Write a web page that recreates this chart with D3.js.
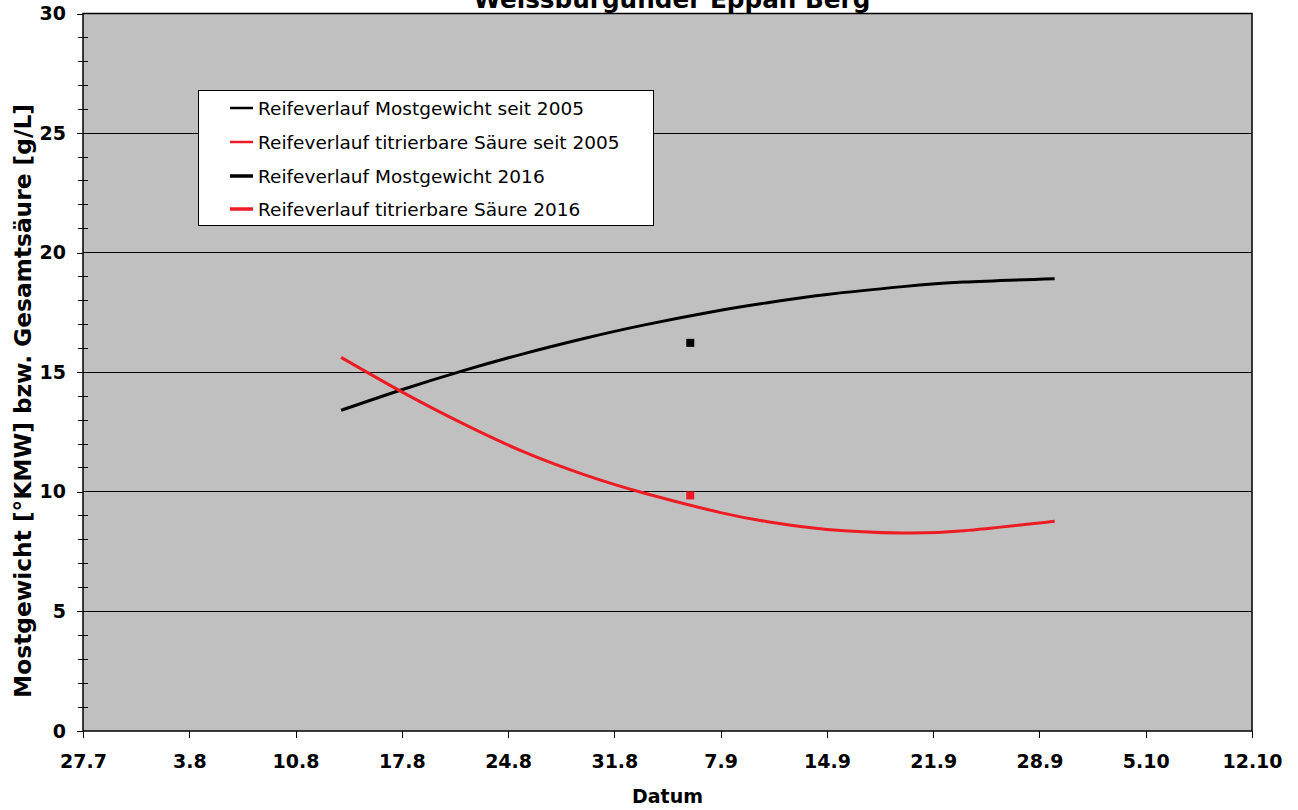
<!DOCTYPE html>
<html>
<head>
<meta charset="utf-8">
<script src="https://cdn.jsdelivr.net/npm/d3@7"></script>
<style>
  html, body { margin: 0; padding: 0; background: #fff; }
  svg { display: block; font-family: Verdana, "DejaVu Sans", sans-serif; }
</style>
</head>
<body>
<svg id="chart" width="1298" height="810"></svg>
<script>
// ---- data ----
const tickDates = ["2016-07-27","2016-08-03","2016-08-10","2016-08-17","2016-08-24","2016-08-31",
                   "2016-09-07","2016-09-14","2016-09-21","2016-09-28","2016-10-05","2016-10-12"];
const yTicks = [0, 5, 10, 15, 20, 25, 30];

const trendDates = ["2016-08-13","2016-08-17","2016-08-21","2016-08-25","2016-08-29","2016-09-02",
                    "2016-09-07","2016-09-10","2016-09-14","2016-09-19","2016-09-23","2016-09-29"];
const mostgewichtTrend = [13.41, 14.27, 15.06, 15.77, 16.41, 16.98, 17.59, 17.90, 18.25, 18.58, 18.77, 18.91];
const saeureTrend      = [15.62, 14.18, 12.86, 11.68, 10.72, 9.94, 9.13, 8.76, 8.43, 8.28, 8.37, 8.77];

const dates2016 = ["2016-09-05"];
const mostgewicht2016 = [16.23];
const saeure2016 = [9.85];

const legendLabels = ["Reifeverlauf Mostgewicht seit 2005", "Reifeverlauf titrierbare Säure seit 2005",
                      "Reifeverlauf Mostgewicht 2016", "Reifeverlauf titrierbare Säure 2016"];
const titleText = "Weissburgunder Eppan Berg";
const xTitle = "Datum";
const yTitle = "Mostgewicht [°KMW] bzw. Gesamtsäure [g/L]";

// ---- drawing ----
const RED = "#ed1c24";
const parse = d3.timeParse("%Y-%m-%d");
const fmt = d3.timeFormat("%-d.%-m");
const svg = d3.select("#chart");
const L = 83, R = 1252, T = 13.5, B = 731;

const x = d3.scaleTime().domain([parse(tickDates[0]), parse(tickDates[tickDates.length - 1])]).range([L, R]);
const y = d3.scaleLinear().domain([0, 30]).range([B, T]);

// plot background
svg.append("rect").attr("x", L).attr("y", T).attr("width", R - L).attr("height", B - T)
  .attr("fill", "#c0c0c0");

// gridlines
svg.append("g").selectAll("line").data(yTicks.filter(v => v > 0 && v < 30)).join("line")
  .attr("x1", L).attr("x2", R).attr("y1", d => y(d)).attr("y2", d => y(d))
  .attr("stroke", "#000").attr("stroke-width", 1).attr("shape-rendering", "crispEdges");

// minor y ticks
svg.append("g").selectAll("line").data(d3.range(0, 31).filter(v => v % 5 !== 0)).join("line")
  .attr("x1", L - 5).attr("x2", L + 5).attr("y1", d => y(d)).attr("y2", d => y(d))
  .attr("stroke", "#000").attr("stroke-width", 1).attr("shape-rendering", "crispEdges");

// y axis
const yAxis = svg.append("g").attr("transform", `translate(${L},0)`)
  .call(d3.axisLeft(y).tickValues(yTicks).tickSize(6).tickPadding(11).tickFormat(d3.format("d")));
yAxis.select(".domain").remove();
yAxis.selectAll(".tick line").attr("stroke", "#000").attr("shape-rendering", "crispEdges");
yAxis.selectAll(".tick text").attr("font-size", 19).attr("font-weight", "bold")
  .attr("font-family", 'Verdana, "DejaVu Sans", sans-serif').attr("fill", "#000");

// x axis
const xAxis = svg.append("g").attr("transform", `translate(0,${B})`)
  .call(d3.axisBottom(x).tickValues(tickDates.map(parse)).tickSize(7).tickPadding(17).tickFormat(fmt));
xAxis.select(".domain").remove();
xAxis.selectAll(".tick line").attr("stroke", "#000").attr("shape-rendering", "crispEdges");
xAxis.selectAll(".tick text").attr("font-size", 19).attr("font-weight", "bold")
  .attr("font-family", 'Verdana, "DejaVu Sans", sans-serif').attr("fill", "#000");

// plot border
svg.append("rect").attr("x", L).attr("y", T).attr("width", R - L).attr("height", B - T)
  .attr("fill", "none").attr("stroke", "#000").attr("stroke-width", 1.5);

// trend curves
const line = d3.line().x(d => x(d[0])).y(d => y(d[1])).curve(d3.curveNatural);
const mostData = trendDates.map((d, i) => [parse(d), mostgewichtTrend[i]]);
const saeureData = trendDates.map((d, i) => [parse(d), saeureTrend[i]]);
svg.append("path").datum(mostData).attr("d", line).attr("fill", "none")
  .attr("stroke", "#000").attr("stroke-width", 3);
svg.append("path").datum(saeureData).attr("d", line).attr("fill", "none")
  .attr("stroke", RED).attr("stroke-width", 3);

// 2016 points
const sq = 8;
svg.append("g").selectAll("rect").data(dates2016.map((d, i) => [parse(d), mostgewicht2016[i]])).join("rect")
  .attr("x", d => x(d[0]) - sq / 2).attr("y", d => y(d[1]) - sq / 2).attr("width", sq).attr("height", sq)
  .attr("fill", "#000");
svg.append("g").selectAll("rect").data(dates2016.map((d, i) => [parse(d), saeure2016[i]])).join("rect")
  .attr("x", d => x(d[0]) - sq / 2).attr("y", d => y(d[1]) - sq / 2).attr("width", sq).attr("height", sq)
  .attr("fill", RED);

// legend
const lg = svg.append("g");
lg.append("rect").attr("x", 198.5).attr("y", 90.5).attr("width", 455).attr("height", 135)
  .attr("fill", "#fff").attr("stroke", "#000").attr("stroke-width", 1);
const legColors = ["#000", RED, "#000", RED];
const legWidths = [2.5, 2.5, 3.5, 3.5];
const rowY = [108, 142, 176, 209];
legendLabels.forEach((lab, i) => {
  lg.append("line").attr("x1", 230).attr("x2", 253).attr("y1", rowY[i]).attr("y2", rowY[i])
    .attr("stroke", legColors[i]).attr("stroke-width", legWidths[i]);
  lg.append("text").attr("x", 258).attr("y", rowY[i] + 7).attr("font-size", 18.5)
    .attr("fill", "#000").text(lab);
});

// titles
svg.append("text").attr("x", 672).attr("y", 7.5).attr("text-anchor", "middle")
  .attr("font-size", 24.7).attr("font-weight", "bold").text(titleText);
svg.append("text").attr("x", (L + R) / 2).attr("y", 803).attr("text-anchor", "middle")
  .attr("font-size", 19).attr("font-weight", "bold").text(xTitle);
svg.append("text").attr("transform", `translate(30.5,401) rotate(-90)`)
  .attr("text-anchor", "middle").attr("font-size", 23.3).attr("font-weight", "bold").text(yTitle);
</script>
</body>
</html>
